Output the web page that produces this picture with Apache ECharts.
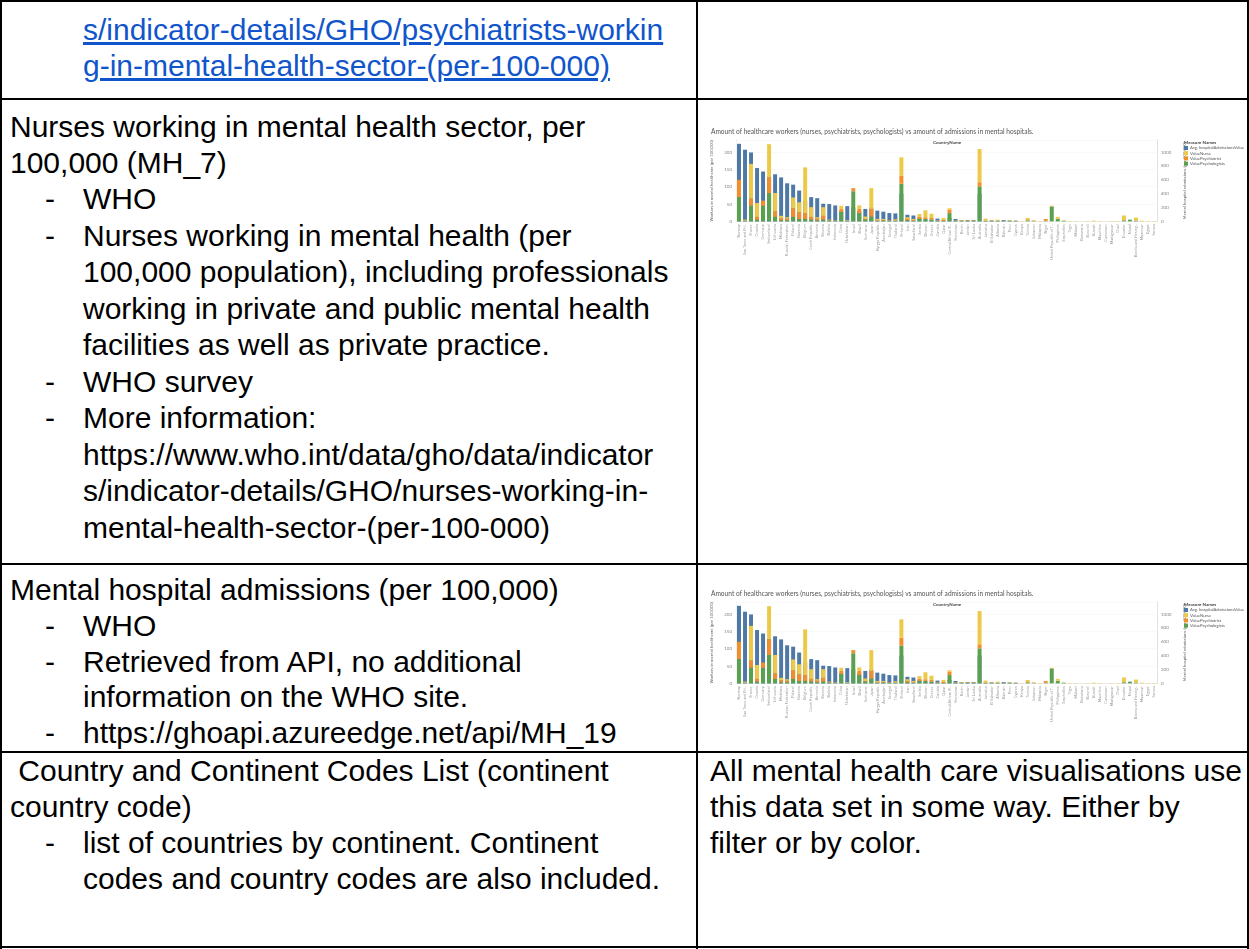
<!DOCTYPE html>
<html>
<head>
<meta charset="utf-8">
<script src="https://cdn.jsdelivr.net/npm/echarts@6/dist/echarts.min.js"></script>
<style>
  html, body { margin: 0; padding: 0; background: #fff; }
  body { width: 1249px; height: 949px; position: relative; overflow: hidden;
         font-family: "Liberation Sans", Arial, sans-serif; color: #000; }
  .hl { position: absolute; background: #000; height: 2px; left: 0; width: 1249px; }
  .vl { position: absolute; background: #000; width: 2px; }
  .t { position: absolute; font-size: 30px; line-height: 36px; white-space: nowrap; }
  .lnk { color: #1155cc; text-decoration: underline; }
  .chart { position: absolute; left: 700px; width: 549px; height: 145px; }
</style>
</head>
<body>
<!-- table lines -->
<div class="vl" style="left:0;top:0;height:949px"></div>
<div class="vl" style="left:1247px;top:0;height:949px"></div>
<div class="vl" style="left:696px;top:0;height:949px"></div>
<div class="hl" style="top:0"></div>
<div class="hl" style="top:98px"></div>
<div class="hl" style="top:563px"></div>
<div class="hl" style="top:751px"></div>
<div class="hl" style="top:946px"></div>

<!-- row 1 -->
<div class="t lnk" style="left:83px;top:12px">s/indicator-details/GHO/psychiatrists-workin</div>
<div class="t lnk" style="left:83px;top:48px">g-in-mental-health-sector-(per-100-000)</div>

<!-- row 2 -->
<div class="t" style="left:10px;top:109px">Nurses working in mental health sector, per</div>
<div class="t" style="left:10px;top:145px">100,000 (MH_7)</div>
<div class="t" style="left:45px;top:181px">-</div><div class="t" style="left:83px;top:181px">WHO</div>
<div class="t" style="left:45px;top:218px">-</div><div class="t" style="left:83px;top:218px">Nurses working in mental health (per</div>
<div class="t" style="left:83px;top:254px">100,000 population), including professionals</div>
<div class="t" style="left:83px;top:291px">working in private and public mental health</div>
<div class="t" style="left:83px;top:327px">facilities as well as private practice.</div>
<div class="t" style="left:45px;top:364px">-</div><div class="t" style="left:83px;top:364px">WHO survey</div>
<div class="t" style="left:45px;top:400px">-</div><div class="t" style="left:83px;top:400px">More information:</div>
<div class="t" style="left:83px;top:437px">https://www.who.int/data/gho/data/indicator</div>
<div class="t" style="left:83px;top:473px">s/indicator-details/GHO/nurses-working-in-</div>
<div class="t" style="left:83px;top:510px">mental-health-sector-(per-100-000)</div>

<!-- row 3 -->
<div class="t" style="left:10px;top:572px">Mental hospital admissions (per 100,000)</div>
<div class="t" style="left:45px;top:608px">-</div><div class="t" style="left:83px;top:608px">WHO</div>
<div class="t" style="left:45px;top:644px">-</div><div class="t" style="left:83px;top:644px">Retrieved from API, no additional</div>
<div class="t" style="left:83px;top:679px">information on the WHO site.</div>
<div class="t" style="left:45px;top:715px">-</div><div class="t" style="left:83px;top:715px">https://ghoapi.azureedge.net/api/MH_19</div>

<!-- row 4 -->
<div class="t" style="left:10px;top:753px">&nbsp;Country and Continent Codes List (continent</div>
<div class="t" style="left:10px;top:789px">country code)</div>
<div class="t" style="left:45px;top:825px">-</div><div class="t" style="left:83px;top:825px">list of countries by continent. Continent</div>
<div class="t" style="left:83px;top:861px">codes and country codes are also included.</div>
<div class="t" style="left:710px;top:753px">All mental health care visualisations use</div>
<div class="t" style="left:710px;top:789px">this data set in some way. Either by</div>
<div class="t" style="left:710px;top:825px">filter or by color.</div>

<div class="chart" id="chart-1" style="top:118px"></div>
<div class="chart" id="chart-2" style="top:580px"></div>

<script>
// countries along the x axis (sorted as in the Tableau sheet)
const countries = [
  'Norway', 'Sao Tome and Pri..', 'France', 'Croatia', 'Germany', 'Switzerland', 'Lithuania', 'Moldova',
  'Russian Federation', 'Poland', 'Slovenia', 'Belgium', 'Czech Republic', 'Armenia', 'Estonia', 'Bolivia',
  'Indonesia', 'Cuba', 'Uzbekistan', 'Israel', 'Brazil', 'Suriname', 'Japan', 'Kyrgyz Republic',
  'Azerbaijan', 'Senegal', 'Thailand', 'Finland', 'Iran', 'Swaziland', 'Serbia', 'Bhutan',
  'Greece', 'Zambia', 'Qatar', 'Central African R..', 'Honduras', 'Benin', 'Jordan', 'Sri Lanka',
  'Australia', 'Jamaica', 'El Salvador', 'Albania', 'Bahrain', 'Peru', 'Cyprus', 'Kenya',
  'Tunisia', 'Lebanon', 'Malaysia', 'Niger', 'United Republic of T..', 'Philippines', 'Seychelles', 'Togo',
  'Malawi', 'Botswana', 'Burundi', 'Kuwait', 'Mauritius', 'Cameroon', 'Madagascar', 'Chad',
  'Ecuador', 'Nepal', 'Bosnia and Herzeg..', 'Myanmar', 'Egypt', 'Samoa'
];
// Avg. hospitalAdmissionsValue (right axis, per 100,000)
const admissions = [
  1120, 1035, 995, 770, 720, 650, 680, 635, 550, 530, 445, 300, 350, 335, 255, 250,
  230, 150, 220, 200, 150, 180, 200, 155, 140, 120, 115, 400, 95, 85, 50, 25,
  25, 40, 15, 50, 35, 20, 20, 20, 400, 10, 15, 10, 20, 15, 10, 0,
  0, 0, 0, 0, 0, 0, 0, 0, 0, 0, 0, 0, 0, 0, 0, 0,
  0, 0, 0, 0, 0, 0
];
// ValueNurse (left axis)
const nurses = [
  0, 3, 100, 40, 0, 96, 53, 7, 4, 31, 29, 132, 28, 4, 25, 2,
  1, 9, 2, 0, 10, 7, 60, 4, 3, 1, 4, 53, 5, 4, 7, 20,
  12, 1, 6, 4, 1, 2, 1, 1, 96, 6, 1, 3, 1, 2, 1, 1,
  4, 2, 1, 0, 1, 5, 1, 1, 1, 0, 1, 2, 1, 0, 1, 1,
  13, 0, 8, 2, 1, 1
];
// ValuePsychiatrist
const psychiatrists = [
  50, 1, 21, 8, 15, 45, 16, 6, 5, 25, 19, 17, 8, 5, 11, 1,
  1, 9, 0, 9, 12, 2, 22, 2, 2, 1, 1, 23, 4, 2, 7, 5,
  5, 1, 3, 10, 1, 1, 1, 1, 12, 1, 1, 1, 0, 0, 0, 0,
  3, 1, 0, 5, 1, 1, 0, 0, 0, 0, 0, 0, 0, 0, 0, 0,
  1, 0, 1, 0, 0, 0
];
// ValuePsychologists
const psychologists = [
  70, 1, 45, 5, 45, 82, 13, 3, 3, 13, 7, 7, 5, 3, 5, 2,
  1, 27, 2, 87, 24, 5, 14, 1, 2, 1, 1, 109, 3, 1, 7, 7,
  5, 1, 1, 24, 1, 1, 1, 1, 101, 1, 1, 1, 1, 1, 1, 0,
  3, 1, 0, 2, 43, 7, 2, 0, 0, 0, 0, 0, 0, 0, 0, 0,
  3, 5, 2, 0, 0, 0
];
const leftTicks = [0, 50, 100, 150, 200];
const rightTicks = [0, 200, 400, 600, 800, 1000];

function makeOption() {
  let small = { fontFamily: 'Lato, "Open Sans", sans-serif' };
  return {
    animation: false,
    textStyle: small,
    title: [
      {
        text: 'Amount of healthcare workers (nurses, psychiatrists, psychologists) vs amount of admissions in mental hospitals.',
        left: 6, top: 5,
        textStyle: { fontSize: 6.6, fontWeight: 'normal', color: '#555' }
      },
      {
        text: 'CountryName',
        left: 228, top: 17,
        textStyle: { fontSize: 4.5, fontWeight: 'bold', color: '#444' }
      },
      {
        text: 'Measure Names',
        left: 479, top: 17,
        textStyle: { fontSize: 4.5, fontWeight: 'bold', color: '#444' }
      }
    ],
    legend: {
      orient: 'vertical',
      left: 479, top: 23,
      itemWidth: 4, itemHeight: 4, itemGap: 1.2,
      icon: 'rect',
      textStyle: { fontSize: 4.2, color: '#555', padding: [0, 0, 0, -3] },
      data: ['Avg. hospitalAdmissionsValue', 'ValueNurse', 'ValuePsychiatrist', 'ValuePsychologists']
    },
    grid: { left: 36, right: 92, top: 22, height: 82 },
    xAxis: {
      type: 'category',
      data: countries,
      axisLine: { lineStyle: { color: '#ddd', width: 0.5 } },
      axisTick: { show: false },
      axisLabel: { interval: 0, rotate: 90, fontSize: 3.8, color: '#999', margin: 3 }
    },
    yAxis: [
      {
        type: 'value', min: 0, max: 235, interval: 50,
        name: 'Workers in mental healthcare (per 100,000)',
        nameLocation: 'middle', nameGap: 12,
        nameTextStyle: { fontSize: 4.3, color: '#666' },
        axisLine: { show: true, lineStyle: { color: '#e6e6e6', width: 0.5 } },
        axisLabel: { fontSize: 4.5, color: '#888', margin: 4, showMaxLabel: false,
          formatter: function(v) { return leftTicks.indexOf(v) >= 0 ? v : ''; } },
        splitLine: { lineStyle: { color: '#f2f2f2', width: 0.5 } }
      },
      {
        type: 'value', min: 0, max: 1175, interval: 200,
        name: 'Mental hospital admissions (per 100,000)',
        nameLocation: 'middle', nameGap: 14,
        nameTextStyle: { fontSize: 4.3, color: '#666' },
        axisLine: { show: true, lineStyle: { color: '#ccc', width: 0.6 } },
        axisLabel: { fontSize: 4.5, color: '#888', margin: 4, showMaxLabel: false,
          formatter: function(v) { return rightTicks.indexOf(v) >= 0 ? v : ''; } },
        splitLine: { show: false }
      }
    ],
    series: [
      {
        name: 'Avg. hospitalAdmissionsValue', type: 'bar', yAxisIndex: 1,
        barWidth: '66%', barGap: '-100%',
        itemStyle: { color: '#4e79a7' }, data: admissions
      },
      {
        name: 'ValuePsychologists', type: 'bar', stack: 'workers', yAxisIndex: 0,
        barWidth: '66%', itemStyle: { color: '#59a14f' }, data: psychologists
      },
      {
        name: 'ValuePsychiatrist', type: 'bar', stack: 'workers', yAxisIndex: 0,
        barWidth: '66%', itemStyle: { color: '#f28e2b' }, data: psychiatrists
      },
      {
        name: 'ValueNurse', type: 'bar', stack: 'workers', yAxisIndex: 0,
        barWidth: '66%', itemStyle: { color: '#edc948' }, data: nurses
      }
    ]
  };
}

let chart1 = echarts.init(document.getElementById('chart-1'));
chart1.setOption(makeOption());
let chart2 = echarts.init(document.getElementById('chart-2'));
chart2.setOption(makeOption());
</script>
</body>
</html>
